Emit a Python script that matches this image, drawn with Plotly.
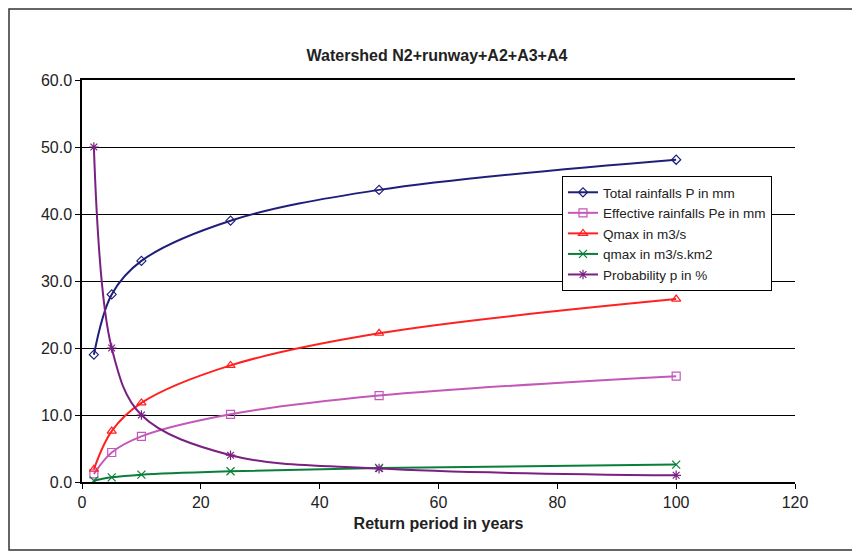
import plotly.graph_objects as go

return_period = [2, 5, 10, 25, 50, 100]
total_rain = [19.0, 28.0, 33.0, 39.0, 43.6, 48.1]
eff_rain = [1.2, 4.4, 6.8, 10.1, 12.9, 15.8]
Qmax = [1.9, 7.6, 11.8, 17.4, 22.2, 27.3]
qmax = [0.2, 0.7, 1.1, 1.6, 2.1, 2.6]
prob = [50.0, 20.0, 10.0, 4.0, 2.0, 1.0]

series = [
    ("Total rainfalls P in mm", total_rain, "#1F1F7A", "diamond-open", 7),
    ("Effective rainfalls Pe in mm", eff_rain, "#C458B8", "square-open", 8),
    ("Qmax in m3/s", Qmax, "#FF2020", "triangle-up-open", 8),
    ("qmax in m3/s.km2", qmax, "#0A7F3A", "x-thin-open", 8),
    ("Probability p in %", prob, "#7A2082", "asterisk-open", 8),
]

fig = go.Figure()
for name, vals, color, sym, size in series:
    fig.add_trace(go.Scatter(
        x=return_period, y=vals, name=name, mode="lines+markers",
        line=dict(color=color, width=2, shape="spline", smoothing=1.0),
        marker=dict(symbol=sym, size=size, color=color, line=dict(color=color, width=1.2)),
    ))

W, H = 852, 544
L, R, T, B = 74, 65, 72, 70
pw, ph = W - L - R, H - T - B

fig.update_layout(
    width=W, height=H,
    margin=dict(l=L, r=R, t=T, b=B),
    paper_bgcolor="white", plot_bgcolor="white",
    font=dict(family="Liberation Sans, Arial, sans-serif", size=16, color="#222"),
    title=dict(text="<b>Watershed N2+runway+A2+A3+A4</b>", x=429 / W, xanchor="center",
               y=1 - 47 / H, yanchor="middle", font=dict(size=16)),
    xaxis=dict(range=[0, 120], tick0=0, dtick=20, ticks="outside", ticklen=5,
               tickcolor="black", showline=True, linecolor="black", linewidth=1.5,
               mirror=True, showgrid=False, zeroline=False,
               title=dict(text="<b>Return period in years</b>", font=dict(size=16), standoff=8),
               tickfont=dict(size=16)),
    yaxis=dict(range=[0, 60], tick0=0, dtick=10, tickformat=".1f", ticks="outside",
               ticklen=5, tickcolor="black", showline=True, linecolor="black", linewidth=1.5,
               showgrid=True, gridcolor="black", gridwidth=1, zeroline=False,
               tickfont=dict(size=16)),
    legend=dict(x=(554 - L) / pw, y=(474 - 168) / ph, xanchor="left", yanchor="top",
                bordercolor="black", borderwidth=1, bgcolor="white",
                font=dict(size=13.5), tracegroupgap=0, itemwidth=30),
    showlegend=True,
)

fig.add_shape(type="rect", xref="paper", yref="paper",
              x0=(1 - L) / pw, x1=(849 - L) / pw,
              y0=(474 - 542) / ph, y1=(474 - 1) / ph,
              line=dict(color="#333", width=1.5), fillcolor="rgba(0,0,0,0)", layer="below")

fig.write_html("out.html")
